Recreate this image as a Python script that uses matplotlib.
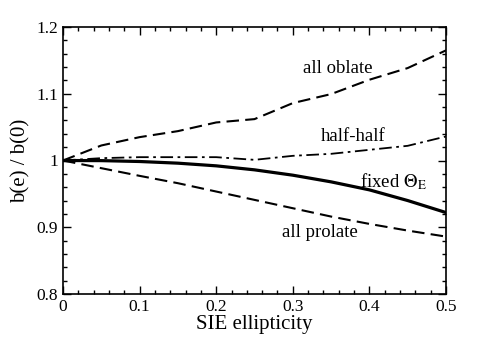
import matplotlib.pyplot as plt
from matplotlib.ticker import MultipleLocator

plt.rcParams['font.family'] = ['Liberation Serif', 'DejaVu Serif']
plt.rcParams['mathtext.fontset'] = 'stix'

# ellipticity samples
ell = [0.0, 0.05, 0.1, 0.15, 0.2, 0.25, 0.3, 0.35, 0.4, 0.45, 0.5]

# b(e)/b(0) for each model
oblate = [1.0, 1.0225, 1.035, 1.044, 1.057, 1.062, 1.086, 1.0995, 1.121, 1.1385, 1.165]
halfhalf = [1.0, 1.0035, 1.005, 1.005, 1.005, 1.001, 1.007, 1.010, 1.016, 1.022, 1.036]
fixed = [1.0, 0.9998, 0.9985, 0.996, 0.992, 0.986, 0.978, 0.968, 0.956, 0.940, 0.922]
prolate = [1.0, 0.9885, 0.977, 0.966, 0.9535, 0.941, 0.9285, 0.916, 0.905, 0.895, 0.886]

xticks = [0, 0.1, 0.2, 0.3, 0.4, 0.5]
xlabels = ['0', '0.1', '0.2', '0.3', '0.4', '0.5']
yticks = [0.8, 0.9, 1.0, 1.1, 1.2]
ylabels = ['0.8', '0.9', '1', '1.1', '1.2']

fig = plt.figure(figsize=(4.85, 3.46), dpi=100)
ax = fig.add_axes([63 / 485, 1 - 294 / 346, 383 / 485, 267 / 346])

ax.plot(ell, oblate, color='black', lw=1.5, dashes=(6, 3))
ax.plot(ell, halfhalf, color='black', lw=1.3, dashes=(7, 2.5, 1.5, 2.5))
ax.plot(ell, fixed, color='black', lw=2.3)
ax.plot(ell, prolate, color='black', lw=1.5, dashes=(6, 3))

ax.text(0.359, 1.1385, 'all oblate', ha='center', va='center', fontsize=13.5)
ax.text(0.379, 1.036, 'half-half', ha='center', va='center', fontsize=13.5)
ax.text(0.431, 0.968, r'fixed $\Theta_{\rm E}$', ha='center', va='center', fontsize=13.5)
ax.text(0.335, 0.8925, 'all prolate', ha='center', va='center', fontsize=13.5)

ax.set_xlim(0, 0.5)
ax.set_ylim(0.8, 1.2)
ax.set_xticks(xticks)
ax.set_xticklabels(xlabels)
ax.set_yticks(yticks)
ax.set_yticklabels(ylabels)
ax.xaxis.set_minor_locator(MultipleLocator(0.02))
ax.yaxis.set_minor_locator(MultipleLocator(0.02))
ax.tick_params(which='both', direction='in', top=True, right=True, labelsize=12.5)
ax.tick_params(which='major', length=6, width=1)
ax.tick_params(which='minor', length=3, width=1)
for s in ax.spines.values():
    s.set_linewidth(1.2)

ax.set_xlabel('SIE ellipticity', fontsize=15, labelpad=0)
ax.set_ylabel('b(e) / b(0)', fontsize=15, labelpad=4)

fig.savefig('out.png', dpi=100)
